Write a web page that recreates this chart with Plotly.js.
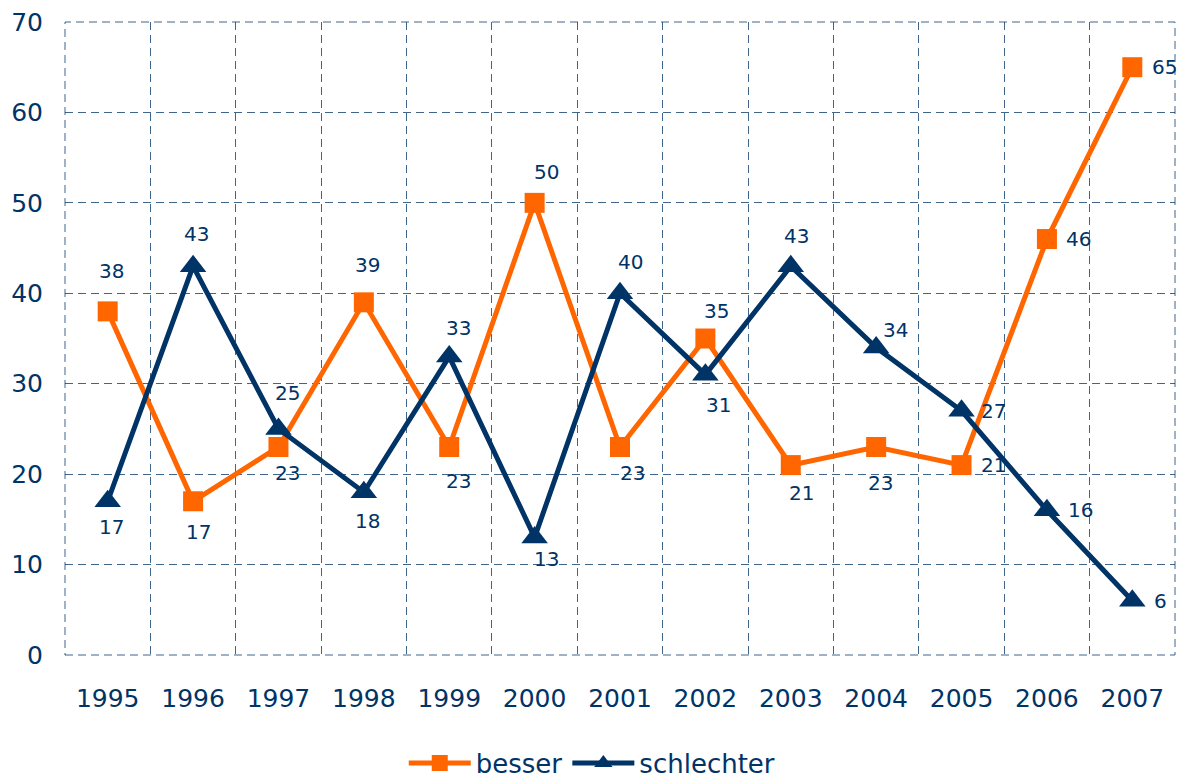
<!DOCTYPE html>
<html>
<head>
<meta charset="utf-8">
<script src="https://cdn.plot.ly/plotly-3.0.1.min.js"></script>
<style>html,body{margin:0;padding:0;background:#fff;}#chart{width:1190px;height:778px;}</style>
</head>
<body>
<div id="chart"></div>
<script>
const years = ["1995","1996","1997","1998","1999","2000","2001","2002","2003","2004","2005","2006","2007"];
const besser = [38, 17, 23, 39, 23, 50, 23, 35, 21, 23, 21, 46, 65];
const schlechter = [17, 43, 25, 18, 33, 13, 40, 31, 43, 34, 27, 16, 6];
const yTicks = [0, 10, 20, 30, 40, 50, 60, 70];

// label offsets in pixels (style only)
const besserShift = [[4,40],[5,-31],[9,-26],[4,37],[9,-34],[12,31],[12,-26],[11,28],[11,-28],[4,-36],[32,0],[32,0],[32,0]];
const schlechterShift = [[4,-26],[3,32],[9,36],[4,-29],[9,29],[12,-22],[10,31],[13,-30],[6,30],[19,18],[32,0],[34,0],[28,0]];

const navy = "#003366";
const orange = "#FF6600";
const font = "DejaVu Sans, Verdana, sans-serif";

const traces = [
  {x: years, y: besser, name: "besser", type: "scatter", mode: "lines+markers",
   line: {color: orange, width: 5}, marker: {symbol: "square", size: 20, color: orange}},
  {x: years, y: schlechter, name: "schlechter", type: "scatter", mode: "lines+markers",
   line: {color: navy, width: 5}, marker: {symbol: "triangle-up", size: 23, color: navy}}
];

const annotations = [];
function addLabels(vals, shifts) {
  vals.forEach((v, i) => {
    annotations.push({xref: "x", yref: "y", x: i, y: v, text: String(v), showarrow: false,
      xshift: shifts[i][0], yshift: shifts[i][1],
      font: {family: font, size: 20, color: navy}});
  });
}
addLabels(besser, besserShift);
addLabels(schlechter, schlechterShift);

const gridColor = "rgba(0,51,102,0.75)";
const dash = "8px,5px";
const layout = {
  width: 1190, height: 778,
  margin: {l: 65, r: 15, t: 22, b: 123, autoexpand: false},
  paper_bgcolor: "#fff", plot_bgcolor: "#fff",
  font: {family: font, color: navy, size: 25},
  showlegend: true,
  legend: {orientation: "h", x: 0.475, xanchor: "center", yref: "container", y: 0.019, yanchor: "middle",
           font: {family: font, size: 26, color: navy}, itemwidth: 62, traceorder: "normal"},
  xaxis: {type: "category", range: [-0.5, 12.5], tickson: "boundaries",
          showgrid: true, gridcolor: gridColor, griddash: dash, gridwidth: 1,
          ticks: "", ticklabelstandoff: 26, showline: false, zeroline: false,
          tickfont: {family: font, size: 25, color: navy}, fixedrange: true},
  yaxis: {range: [0, 70], tickvals: yTicks, ticktext: yTicks.map(String),
          showgrid: true, gridcolor: gridColor, griddash: dash, gridwidth: 1,
          zeroline: false, showline: false, ticks: "", ticklabelstandoff: 21,
          tickfont: {family: font, size: 25, color: navy}, fixedrange: true},
  shapes: [{type: "rect", xref: "paper", yref: "paper", x0: 0, x1: 1, y0: 0, y1: 1,
            line: {color: gridColor, width: 1, dash: dash}, layer: "below"}],
  annotations: annotations
};

Plotly.newPlot("chart", traces, layout, {displayModeBar: false, staticPlot: true});
</script>
</body>
</html>
